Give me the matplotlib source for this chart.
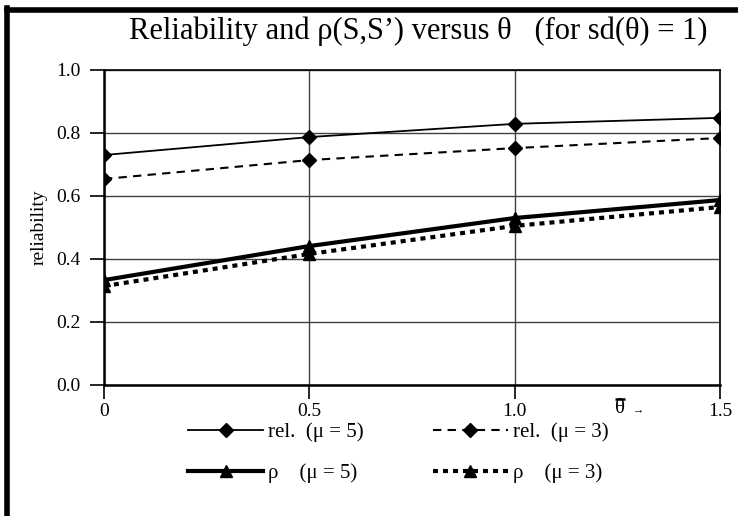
import matplotlib
matplotlib.use("Agg")
import matplotlib.pyplot as plt

plt.rcParams['font.family'] = ['Liberation Serif', 'DejaVu Serif']

theta = [0.0, 0.5, 1.0, 1.5]
rel_mu5 = [0.730, 0.787, 0.829, 0.848]
rel_mu3 = [0.654, 0.714, 0.752, 0.784]
rho_mu5 = [0.333, 0.441, 0.530, 0.587]
rho_mu3 = [0.314, 0.416, 0.505, 0.565]

xticks = [0.0, 0.5, 1.0, 1.5]
xtick_labels = ["0", "0.5", "1.0", "1.5"]
yticks = [0.0, 0.2, 0.4, 0.6, 0.8, 1.0]
ytick_labels = ["0.0", "0.2", "0.4", "0.6", "0.8", "1.0"]

fig = plt.figure(figsize=(7.38, 5.16), dpi=100)
ax = fig.add_axes([0.1409, 0.2539, 0.8347, 0.6105])

l1, = ax.plot(theta, rel_mu5, color='black', lw=1.3, ls='-',
              marker='D', ms=7.5, label='rel.  (\u03bc = 5)', zorder=3)
l3, = ax.plot(theta, rho_mu5, color='black', lw=3.0, ls='-',
              marker='^', ms=9, label='\u03c1    (\u03bc = 5)', zorder=3)
l2, = ax.plot(theta, rel_mu3, color='black', lw=1.5, ls=(0, (4, 3)),
              marker='D', ms=7.5, label='rel.  (\u03bc = 3)', zorder=3)
l4, = ax.plot(theta, rho_mu3, color='black', lw=3.0, ls=(0, (1.2, 1.2)),
              marker='^', ms=9, label='\u03c1    (\u03bc = 3)', zorder=3)

ax.set_xlim(0, 1.5)
ax.set_ylim(0, 1.0)
ax.set_xticks(xticks)
ax.set_xticklabels(xtick_labels)
ax.set_yticks(yticks)
ax.set_yticklabels(ytick_labels)
ax.tick_params(axis='both', direction='out', length=10, width=1.2,
               labelsize=14, color='black')
ax.tick_params(axis='x', pad=3)
ax.tick_params(axis='y', pad=7)
ax.grid(True, color='#404040', lw=1.0)
ax.set_axisbelow(True)
for s in ax.spines.values():
    s.set_color('black')
    s.set_linewidth(1.2)
ax.spines['left'].set_linewidth(1.8)
ax.spines['bottom'].set_linewidth(1.8)

ax.set_ylabel('reliability', fontsize=14)
ax.yaxis.set_label_coords(-0.092, 0.5)

fig.text(0.567, 0.940,
         'Reliability and \u03c1(S,S\u2019) versus \u03b8   (for sd(\u03b8) = 1)',
         ha='center', va='center', fontsize=22)

# axis name: theta with an overbar, followed by a small arrow
ax.text(1.257, -0.045, '\u03b8', transform=ax.transData,
        ha='center', va='top', fontsize=15, clip_on=False)
ax.plot([1.245, 1.269], [-0.043, -0.043], color='black', lw=1.8,
        clip_on=False, solid_capstyle='butt')
ax.text(1.3, -0.065, '\u2192', transform=ax.transData,
        ha='center', va='top', fontsize=8, clip_on=False)

leg = ax.legend(handles=[l1, l3, l2, l4], ncol=2, loc='upper center',
                bbox_to_anchor=(0.478, -0.06), frameon=False, fontsize=15,
                handlelength=3.6, columnspacing=3.3, labelspacing=1.0,
                handletextpad=0.25)

# outer chart frame (top and left edges)
fig.add_artist(plt.Line2D([0.0095, 1.0], [0.981, 0.981], transform=fig.transFigure,
                          color='black', lw=4))
fig.add_artist(plt.Line2D([0.0095, 0.0095], [0.0, 0.985], transform=fig.transFigure,
                          color='black', lw=4))

fig.savefig('out.png', dpi=100)
